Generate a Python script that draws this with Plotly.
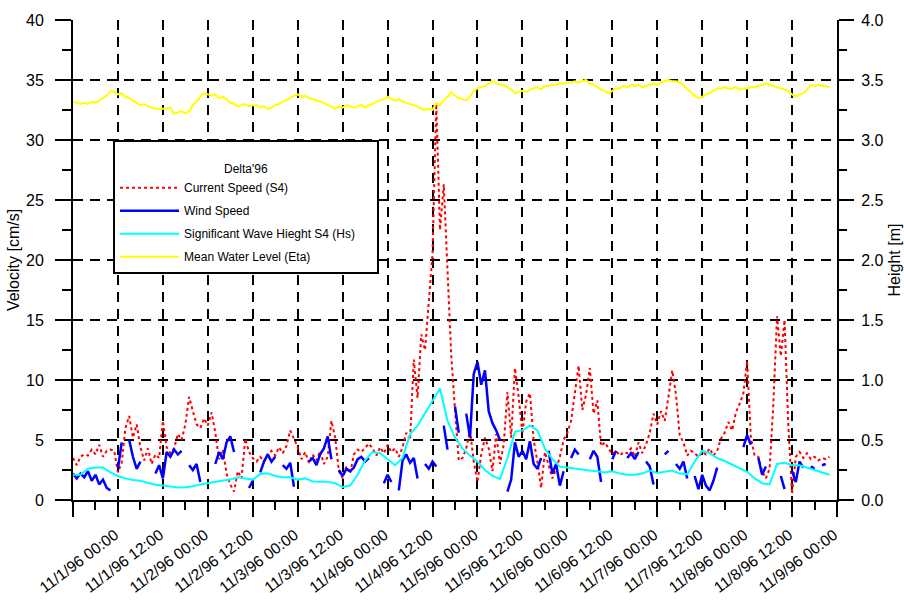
import pandas as pd
import plotly.graph_objects as go

# ---------------- data (hourly / 2-hourly samples starting 10/31/96 12:00) ----------------
start_time = "1996-10-31 12:00"

# Mean Water Level (Eta) [m] – hourly
eta = [
    3.32, 3.31, 3.30, 3.31, 3.30, 3.32, 3.31, 3.33, 3.35, 3.37,
    3.41, 3.40, 3.38, 3.39, 3.36, 3.35, 3.33, 3.31, 3.29, 3.30,
    3.28, 3.27, 3.26, 3.26, 3.26, 3.26, 3.27, 3.22, 3.23, 3.24,
    3.22, 3.24, 3.29, 3.32, 3.36, 3.39, 3.38, 3.37, 3.38, 3.35,
    3.36, 3.34, 3.31, 3.30, 3.28, 3.29, 3.30, 3.28, 3.29, 3.29,
    3.27, 3.28, 3.26, 3.27, 3.29, 3.30, 3.32, 3.33, 3.35, 3.37,
    3.38, 3.36, 3.37, 3.35, 3.34, 3.33, 3.32, 3.31, 3.29, 3.28,
    3.26, 3.28, 3.27, 3.29, 3.28, 3.27, 3.28, 3.29, 3.27, 3.29,
    3.30, 3.32, 3.33, 3.34, 3.36, 3.34, 3.33, 3.34, 3.32, 3.31,
    3.30, 3.29, 3.28, 3.26, 3.25, 3.26, 3.25, 3.31, 3.29, 3.33,
    3.36, 3.40, 3.37, 3.35, 3.34, 3.33, 3.36, 3.41, 3.43, 3.44,
    3.45, 3.47, 3.49, 3.47, 3.46, 3.46, 3.44, 3.42, 3.39, 3.40,
    3.41, 3.40, 3.42, 3.43, 3.44, 3.42, 3.45, 3.45, 3.46, 3.46,
    3.47, 3.47, 3.48, 3.48, 3.49, 3.48, 3.49, 3.50, 3.47, 3.46,
    3.44, 3.42, 3.41, 3.39, 3.41, 3.43, 3.43, 3.45, 3.44, 3.46,
    3.45, 3.46, 3.44, 3.45, 3.46, 3.47, 3.46, 3.48, 3.49, 3.50,
    3.49, 3.49, 3.48, 3.46, 3.42, 3.40, 3.37, 3.35, 3.36, 3.38,
    3.39, 3.41, 3.43, 3.43, 3.44, 3.43, 3.43, 3.44, 3.42, 3.43,
    3.43, 3.44, 3.44, 3.45, 3.46, 3.47, 3.46, 3.45, 3.44, 3.43,
    3.42, 3.41, 3.38, 3.36, 3.38, 3.39, 3.42, 3.46, 3.45, 3.46,
    3.45, 3.45, 3.44,
]

# Significant Wave Height S4 (Hs) [m] – every 2 hours
hs = [
    0.21, 0.21, 0.26, 0.27, 0.27, 0.23, 0.20, 0.18, 0.167, 0.16,
    0.143, 0.128, 0.12, 0.11, 0.105, 0.107, 0.115, 0.13, 0.143, 0.155,
    0.163, 0.17, 0.19, 0.18, 0.17, 0.217, 0.222, 0.20, 0.19, 0.19,
    0.17, 0.18, 0.155, 0.153, 0.153, 0.14, 0.108, 0.12, 0.21, 0.33,
    0.40, 0.39, 0.34, 0.29, 0.35, 0.55, 0.62, 0.72, 0.83, 0.93,
    0.66, 0.52, 0.43, 0.37, 0.32, 0.25, 0.20, 0.175, 0.35, 0.57,
    0.58, 0.62, 0.58, 0.43, 0.34, 0.278, 0.27, 0.26, 0.25, 0.245,
    0.24, 0.23, 0.24, 0.22, 0.21, 0.21, 0.22, 0.245, 0.225, 0.235,
    0.245, 0.22, 0.215, 0.32, 0.41, 0.39, 0.35, 0.325, 0.295, 0.265,
    0.235, 0.18, 0.14, 0.13, 0.30, 0.31, 0.29, 0.29, 0.27, 0.25,
    0.23, 0.21,
]

# Current Speed (S4) [cm/s] – hourly
current = [
    3.5, 2.9, 3.6, 3.8, 3.7, 4.2, 3.8, 4.6, 3.6, 4.1,
    4.2, 4.1, 2.3, 3.1, 6.0, 7.0, 5.2, 6.3, 4.4, 3.3,
    4.3, 3.0, 3.8, 3.5, 6.6, 4.4, 3.9, 4.3, 5.5, 5.0,
    6.3, 8.6, 7.4, 6.3, 6.0, 6.8, 6.2, 7.3, 5.6, 3.4,
    4.2, 2.2, 1.3, 0.7, 2.4, 1.8, 5.1, 4.0, 3.5, 3.2,
    3.6, 3.2, 3.8, 4.1, 3.7, 4.4, 3.9, 4.5, 5.8, 5.1,
    4.4, 3.4, 4.0, 3.1, 3.8, 3.3, 4.1, 3.0, 3.6, 6.6,
    5.2, 2.4, 1.8, 2.8, 2.2, 3.8, 4.2, 4.0, 4.4, 4.7,
    4.3, 3.7, 4.4, 3.9, 4.6, 4.0, 4.3, 3.6, 4.4, 5.6,
    5.0, 11.7, 8.5, 13.8, 12.5, 16.2, 20.5, 33.0, 22.5, 26.3,
    19.0, 12.0, 7.5, 3.3, 3.5, 4.3, 5.8, 3.2, 1.5, 3.8,
    5.2, 4.3, 2.4, 5.5, 3.0, 4.6, 9.0, 5.2, 11.0, 8.6,
    5.5, 8.2, 8.9, 5.0, 3.2, 1.0, 4.0, 3.0, 1.8, 2.6,
    3.6, 5.0, 5.6, 6.6, 9.0, 11.2, 7.5, 8.8, 11.0, 7.2,
    8.3, 4.5, 4.8, 4.3, 3.8, 4.1, 3.7, 4.0, 3.9, 4.3,
    3.6, 4.8, 3.9, 4.6, 5.6, 7.2, 6.3, 7.4, 6.6, 8.6,
    10.8, 8.8, 5.4, 4.8, 3.7, 4.1, 3.9, 3.6, 4.0, 3.8,
    4.3, 3.7, 4.1, 5.1, 5.6, 6.5, 5.8, 7.3, 8.0, 8.9,
    11.6, 5.2, 3.7, 3.6, 2.4, 1.8, 2.6, 8.0, 15.3, 12.0,
    15.0, 6.2, 0.5, 3.6, 4.0, 3.5, 3.9, 3.4, 3.6, 3.3,
    3.5, 3.4, 3.6,
]

# Wind Speed – hourly (None = no record)
wind = [
    2.2, 1.8, 2.2, 1.9, 2.4, 1.6, 2.1, 1.3, 1.7, 1.0,
    0.8, None, 2.6, 4.8, None, 5.0, 3.6, 2.6, 3.2, None,
    0.9, None, 2.2, 2.9, 1.8, 4.0, 3.6, 4.2, 3.8, 4.1,
    None, 2.9, 2.5, 3.0, 1.5, None, 1.3, None, 3.0, 4.0,
    3.4, 4.8, 5.3, 4.0, None, 2.6, None, 1.0, 1.6, None,
    2.3, 3.2, 3.8, 3.2, 3.6, None, 2.9, 2.6, 3.1, 1.1,
    None, None, None, 3.2, 3.5, 2.9, 3.8, 4.3, 5.3, 3.4,
    None, 2.5, 2.0, 2.6, 2.4, 2.7, 3.4, 3.6, 3.2, 3.5,
    None, 3.0, None, 1.4, 2.1, 1.5, None, 0.8, 3.3, 3.8,
    3.1, 3.5, 1.8, None, 3.0, 2.6, 3.2, 2.8, None, 6.2,
    4.2, None, 7.8, 5.6, None, 7.2, 5.2, 10.5, 11.5, 9.6,
    10.8, 7.4, 6.4, 5.8, 5.0, None, 0.7, 1.7, 4.8, 3.6,
    4.1, 3.4, 4.9, 3.0, 2.6, 3.5, None, 4.1, 2.2, 3.0,
    1.2, 2.4, None, 3.5, 4.2, 3.8, None, None, 3.4, 4.1,
    3.6, 1.5, None, None, 3.4, 4.1, None, None, 3.5, 3.9,
    3.4, 4.0, None, 3.2, 2.8, 1.3, None, None, 3.8, 4.1,
    None, 3.0, 2.6, 3.2, 1.8, None, 2.0, 0.9, 2.1, 1.2,
    0.8, 1.6, 2.7, None, None, 1.8, None, 3.0, None, 4.4,
    5.4, 4.6, None, 3.5, 2.1, 2.8, None, 0.9, None, 2.0,
    0.9, None, 2.4, 1.5, 3.2, 2.7, None, 2.8, 2.6, None,
    2.9, 3.0, None,
]

# x tick positions / labels (first tick on the axis edge carries no label)
tick_vals = pd.date_range(start="1996-10-31 12:00", end="1996-11-09 00:00", freq="12h")
tick_text = [""] + [
    "11/1/96 00:00", "11/1/96 12:00", "11/2/96 00:00", "11/2/96 12:00",
    "11/3/96 00:00", "11/3/96 12:00", "11/4/96 00:00", "11/4/96 12:00",
    "11/5/96 00:00", "11/5/96 12:00", "11/6/96 00:00", "11/6/96 12:00",
    "11/7/96 00:00", "11/7/96 12:00", "11/8/96 00:00", "11/8/96 12:00",
    "11/9/96 00:00",
]

# ---------------- time axes ----------------
t_eta = pd.date_range(start=start_time, periods=len(eta), freq="h")
t_hs = pd.date_range(start=start_time, periods=len(hs), freq="2h")
t_current = pd.date_range(start=start_time, periods=len(current), freq="h")
t_wind = pd.date_range(start=start_time, periods=len(wind), freq="h")

FONT = "Liberation Sans, Arial, sans-serif"
NB = "\u00a0"

fig = go.Figure()

fig.add_trace(go.Scatter(
    x=t_current, y=current, name="Current Speed (S4)", mode="lines",
    line=dict(color="#ff0000", width=2, dash="dot"), legendgroup="a",
))
fig.add_trace(go.Scatter(
    x=t_wind, y=wind, name="Wind Speed", mode="lines", connectgaps=False,
    line=dict(color="#0000ff", width=2.5), legendgroup="b",
))
fig.add_trace(go.Scatter(
    x=t_hs, y=hs, name="Significant Wave Hieght S4 (Hs)" + NB * 5, mode="lines",
    line=dict(color="#00ffff", width=2), yaxis="y2", legendgroup="c",
))
fig.add_trace(go.Scatter(
    x=t_eta, y=eta, name="Mean Water Level (Eta)", mode="lines",
    line=dict(color="#ffff00", width=2), yaxis="y2", legendgroup="d",
))

H6 = 6 * 3600 * 1000

fig.update_layout(
    width=904, height=604,
    margin=dict(l=73, r=67, t=20, b=104, autoexpand=False),
    paper_bgcolor="white", plot_bgcolor="white",
    font=dict(family=FONT, size=16, color="black"),
    showlegend=True,
    legend=dict(
        x=0.0524, y=0.75, xanchor="left", yanchor="top",
        bgcolor="white", bordercolor="black", borderwidth=2,
        font=dict(family=FONT, size=12, color="black"),
        title=dict(text="<br>Delta'96", side="top center", font=dict(family=FONT, size=12)),
        traceorder="grouped", tracegroupgap=4, itemwidth=59,
    ),
    xaxis=dict(
        type="date", automargin=False,
        range=["1996-10-31 12:00", "1996-11-09 00:00"],
        tickmode="array", tickvals=tick_vals, ticktext=tick_text, tickangle=-37,
        ticks="outside", ticklen=15, tickwidth=2, tickcolor="black",
        ticklabelstandoff=3, ticklabelshift=-3,
        showline=True, linecolor="black", linewidth=2,
        showgrid=True, gridcolor="black", gridwidth=2, griddash="10px,7px",
        zeroline=False,
        minor=dict(dtick=H6, tick0="1996-11-01 00:00", ticks="outside",
                   ticklen=8, tickwidth=2, tickcolor="black", showgrid=False),
        tickfont=dict(size=15.5),
    ),
    yaxis=dict(
        range=[0, 40], dtick=5, tick0=0, automargin=False,
        title=dict(text="Velocity [cm/s]", standoff=2, font=dict(size=16)),
        ticks="outside", ticklen=16, tickwidth=2, tickcolor="black",
        ticklabelstandoff=8,
        showline=True, linecolor="black", linewidth=2,
        showgrid=True, gridcolor="black", gridwidth=2, griddash="10px,7px",
        zeroline=False,
        minor=dict(dtick=2.5, ticks="outside", ticklen=9, tickwidth=2,
                   tickcolor="black", showgrid=False),
        tickfont=dict(size=16),
    ),
    yaxis2=dict(
        range=[0, 4], dtick=0.5, tick0=0, tickformat=".1f", automargin=False,
        overlaying="y", side="right",
        title=dict(text="Height [m]", standoff=6, font=dict(size=16)),
        ticks="outside", ticklen=15, tickwidth=2, tickcolor="black",
        ticklabelstandoff=4,
        showline=True, linecolor="black", linewidth=2,
        showgrid=False, zeroline=False,
        minor=dict(dtick=0.25, ticks="outside", ticklen=8, tickwidth=2,
                   tickcolor="black", showgrid=False),
        tickfont=dict(size=16),
    ),
)

fig.write_html("out.html")
